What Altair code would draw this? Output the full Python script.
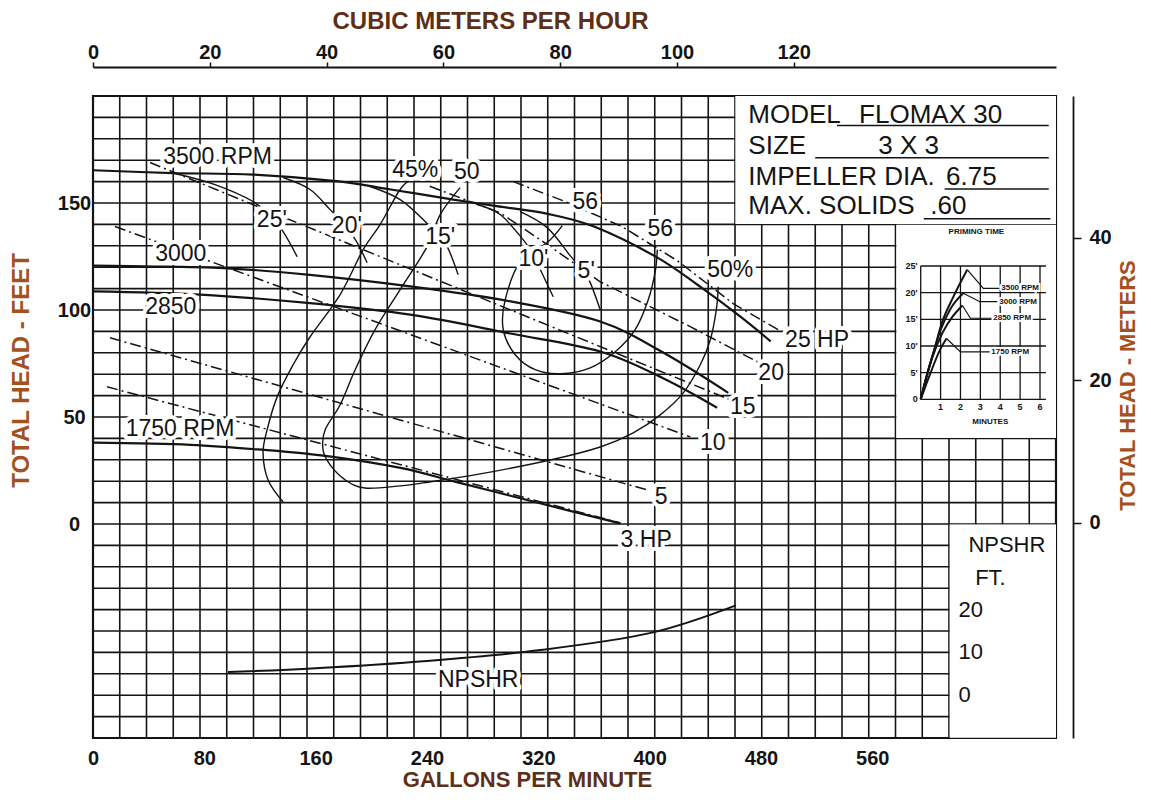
import altair as alt
import pandas as pd

FONT = "Liberation Sans"
INK = "#141414"
TITLE_COLOR_H = "#5e2f16"
TITLE_COLOR_V = "#a4511d"

# ---------------- scales / ticks ----------------
GPM_DOMAIN = [0, 692]
FT_DOMAIN = [-100, 200]
M3H_DOMAIN = [0, 164.9]
METER_DOMAIN = [-30.2, 59.9]
GPM_TICKS = [0, 80, 160, 240, 320, 400, 480, 560]
FT_TICKS = [0, 50, 100, 150]
M3H_TICKS = [0, 20, 40, 60, 80, 100, 120]
METER_TICKS = [0, 20, 40]
NPSHR_TICKS = [0, 10, 20]
NPSHR_BASE_FT = -80      # head-feet position of NPSHR = 0
NPSHR_SCALE = 2          # head-feet per NPSHR foot
GRID_COLUMNS = 36
GRID_FT = list(range(-100, 201, 10))

# ---------------- head-capacity curves (GPM, feet) ----------------
RPM3500_GPM = [0, 57, 115, 175, 214, 259, 290, 326, 360, 405, 436, 465, 487]
RPM3500_FT = [165.3, 164, 163.3, 160.2, 156.3, 151.6, 148.5, 145, 139, 124.7, 111, 97, 85.3]
RPM3000_GPM = [0, 36, 94, 154, 228, 300, 364.5, 410, 456.5]
RPM3000_FT = [120.7, 120.4, 119.6, 116.5, 111, 104, 94.6, 80, 61.3]
RPM2850_GPM = [0, 77, 154, 228, 300, 364.5, 410, 448.5]
RPM2850_FT = [108.7, 107.2, 103.3, 97.8, 89, 80.6, 68, 54.3]
RPM1750_GPM = [0, 70, 123, 171, 221, 260, 300, 340, 379]
RPM1750_FT = [38, 37, 34.6, 31.5, 26.2, 19.8, 13.2, 6.6, 0.3]

# ---------------- brake horsepower lines ----------------
HP25_GPM = [302, 340, 380, 420, 460, 495]
HP25_FT = [160, 150.5, 139, 123, 103, 89.8]
HP20_GPM = [242, 292.6, 330, 364.5, 429.2, 477.4]
HP20_FT = [157.8, 145.4, 129, 113.2, 92.2, 75.8]
HP15_GPM = [41, 461.5]
HP15_FT = [168.9, 57.1]
HP10_GPM = [15.8, 429.2]
HP10_FT = [139, 40.7]
HP5_GPM = [12.2, 398.3]
HP5_FT = [87, 15.9]
HP3_GPM = [10.1, 378.9]
HP3_FT = [64.1, 0.5]

# ---------------- efficiency curves ----------------
EFF45_GPM = [229.3, 220.7, 206.3, 194.1, 177.6, 156.0, 143.8, 132.3, 125.1, 122.2, 125.8, 136.6]
EFF45_FT = [161.0, 156.3, 139.9, 128.2, 107.2, 87.5, 74.4, 59.4, 44.0, 33.2, 20.6, 10.3]
EFF50_GPM = [263.8, 249.5, 240.1, 220.7, 202.7, 188.4, 177.6, 166.8, 165.3, 170.4, 181.2, 195.5,
             220.7, 237.2, 278.2, 328.5, 364.5, 388.2, 407.6, 424.2, 436.4, 443.6, 447.9, 449.3]
EFF50_FT = [157.2, 144.6, 129.6, 109.5, 90.8, 72.1, 55.7, 44.0, 34.6, 27.6, 20.6, 16.8,
            17.8, 19.2, 23.4, 29.9, 36.0, 42.6, 51.0, 61.3, 74.4, 86.1, 100.1, 110.9]
EFF56_GPM = [337.2, 326.4, 307.0, 296.2, 294.8, 303.4, 317.8, 335.7, 357.3, 375.3, 389.6, 399.0, 404.0, 405.5]
EFF56_FT = [139.4, 131.5, 122.6, 104.8, 90.8, 79.1, 72.1, 70.2, 73.0, 80.5, 90.8, 104.8, 117.9, 128.2]

# ---------------- suction-lift curves ----------------
LIFT25_GPM = [59, 87.7, 115, 127.2, 136.6, 146.7]
LIFT25_FT = [163.8, 158.6, 150.7, 143.7, 136.6, 124.9]
LIFT20_GPM = [136.6, 156, 170.4, 182.6, 189.8, 197]
LIFT20_FT = [161.9, 156.3, 146.9, 138.5, 131.5, 122.1]
LIFT15_GPM = [199.1, 220.7, 238.7, 247.3, 254.5, 262.4]
LIFT15_FT = [157.7, 151.6, 141.3, 134.3, 129.6, 116.5]
LIFT10_GPM = [276, 292.6, 309.1, 316.3, 321.4, 330.7]
LIFT10_FT = [149.3, 144.6, 132.9, 125.9, 118.9, 106.2]
LIFT5_GPM = [307, 326.4, 342.9, 352.3, 357.3, 364.5]
LIFT5_FT = [146, 138.5, 125.4, 117.9, 112.8, 100.1]

# ---------------- NPSHR (feet of NPSHR) ----------------
NPSHR_GPM = [97, 160, 240, 320, 400, 462]
NPSHR_VAL = [5.4, 6.3, 8.0, 10.5, 14.5, 21]

# ---------------- curve labels ----------------
LABEL_TEXT = ["3500 RPM", "3000", "2850", "1750 RPM", "45%", "50", "56", "56", "50%",
              "25'", "20'", "15'", "10'", "5'", "25 HP", "20", "15", "10", "5", "3 HP", "NPSHR"]
LABEL_GPM = [89.5, 63.1, 55.9, 62.5, 231.5, 268.6, 353.7, 407.6, 457.9,
             128.5, 182.4, 249.5, 316.5, 354.4, 520.3, 487.3, 466.9, 445.4, 408.2, 397.5, 276.8]
LABEL_FT = [171.7, 126.3, 101.2, 44.5, 165.6, 164.5, 150.4, 138.0, 118.9,
            141.9, 139.1, 134.1, 124.0, 118.1, 86.1, 70.5, 54.5, 37.8, 12.4, -7.5, -73]

NPSHR_HEAD_TEXT = ["NPSHR", "FT."]
NPSHR_HEAD_GPM = [656.7, 644.9]
NPSHR_HEAD_FT = [-9.8, -25.3]
NPSHR_TICK_GPM = 621.9

# ---------------- info box ----------------
INFO_TEXT = ["MODEL", "FLOMAX 30", "SIZE", "3 X 3", "IMPELLER DIA.", "6.75", "MAX. SOLIDS", ".60"]
INFO_GPM = [470.9, 550.5, 470.9, 564.3, 470.9, 613.0, 470.9, 601.7]
INFO_FT = [190.9, 190.9, 176.6, 176.6, 162.2, 162.2, 148.5, 148.5]
UNDER_GPM0 = [534.6, 519.0, 612.0, 597.0]
UNDER_GPM1 = [686.8, 686.8, 686.8, 688.0]
UNDER_FT = [186.2, 171.1, 156.6, 142.6]

# blank panels (info box, priming-time inset, NPSHR scale)
PANEL_GPM0 = [461.6, 577.3, 615.6]
PANEL_GPM1 = [692, 692, 692]
PANEL_FT0 = [140.2, 40.2, -99.9]
PANEL_FT1 = [200, 139.8, -0.2]

# ---------------- priming time inset ----------------
PRIME_MIN_TICKS = [0, 1, 2, 3, 4, 5, 6]
PRIME_LIFT_TICKS = [0, 5, 10, 15, 20, 25]
PRIME_LIFT_LABELS = ["0", "5'", "10'", "15'", "20'", "25'"]
PRIME_GRID_END = 6.3
P3500_MIN = [0, 0.3, 0.63, 1.06, 1.64, 2.34]
P3500_LIFT = [0, 4.5, 8.6, 14.3, 19.2, 24.3]
P3000_MIN = [0, 0.5, 1.0, 1.5, 2.14]
P3000_LIFT = [0, 7, 13, 17, 19.9]
P2850_MIN = [0, 0.6, 1.1, 1.6, 2.1]
P2850_LIFT = [0, 8, 12.5, 15.5, 17.6]
P1750_MIN = [0, 0.5, 1.0, 1.3]
P1750_LIFT = [0, 5, 9.5, 11.4]
LEAD3500_MIN = [2.34, 3.15, 4.0]
LEAD3500_LIFT = [24.3, 20.8, 20.8]
LEAD3000_MIN = [2.14, 2.98, 3.9]
LEAD3000_LIFT = [19.9, 18.3, 18.3]
LEAD2850_MIN = [2.1, 2.5, 3.6]
LEAD2850_LIFT = [17.6, 15.2, 15.2]
LEAD1750_MIN = [1.3, 2.0, 3.5]
LEAD1750_LIFT = [11.4, 8.9, 8.9]
PRIME_LABELS = ["3500 RPM", "3000 RPM", "2850 RPM", "1750 RPM"]
PRIME_LABEL_MIN = [4.05, 3.95, 3.65, 3.55]
PRIME_LABEL_LIFT = [20.8, 18.3, 15.2, 8.9]

# layout (pixels)
W, H = 963, 642
PAD = {"left": 85, "top": 88, "right": 87, "bottom": 56}
INSET_X_RANGE = [827.7, 947]
INSET_Y_RANGE = [303.3, 170]

# ================= build =================
XS = alt.Scale(domain=GPM_DOMAIN, nice=False, zero=False)
YS = alt.Scale(domain=FT_DOMAIN, nice=False, zero=False)

XAX = alt.Axis(values=GPM_TICKS, title="GALLONS PER MINUTE", grid=False, ticks=False, tickSize=0,
               domain=False, labelFontSize=20, labelFontWeight="bold", labelPadding=10,
               labelFlush=False, titleFontSize=22, titleFontWeight="bold", titlePadding=1,
               titleX=434, titleColor=TITLE_COLOR_H)
YAX = alt.Axis(values=FT_TICKS, title="TOTAL HEAD - FEET", grid=False, ticks=False, tickSize=0,
               domain=False, labelFontSize=20, labelFontWeight="bold", labelAlign="center",
               labelPadding=19, titleFontSize=24, titleFontWeight="bold", titlePadding=24,
               titleY=274, titleColor=TITLE_COLOR_V)


def X(field="gpm"):
    return alt.X(f"{field}:Q", scale=XS, axis=XAX)


def Y(field="ft"):
    return alt.Y(f"{field}:Q", scale=YS, axis=YAX)


def series(name, xs, ys, xname="gpm", yname="ft"):
    return pd.DataFrame({xname: xs, yname: ys, "series": name, "i": list(range(len(xs)))})


thick_df = pd.concat([
    series("3500", RPM3500_GPM, RPM3500_FT),
    series("3000", RPM3000_GPM, RPM3000_FT),
    series("2850", RPM2850_GPM, RPM2850_FT),
    series("1750", RPM1750_GPM, RPM1750_FT),
])
thin_df = pd.concat([
    series("e45", EFF45_GPM, EFF45_FT),
    series("e50", EFF50_GPM, EFF50_FT),
    series("e56", EFF56_GPM, EFF56_FT),
    series("l25", LIFT25_GPM, LIFT25_FT),
    series("l20", LIFT20_GPM, LIFT20_FT),
    series("l15", LIFT15_GPM, LIFT15_FT),
    series("l10", LIFT10_GPM, LIFT10_FT),
    series("l5", LIFT5_GPM, LIFT5_FT),
])
dash_df = pd.concat([
    series("hp25", HP25_GPM, HP25_FT),
    series("hp20", HP20_GPM, HP20_FT),
    series("hp15", HP15_GPM, HP15_FT),
    series("hp10", HP10_GPM, HP10_FT),
    series("hp5", HP5_GPM, HP5_FT),
    series("hp3", HP3_GPM, HP3_FT),
])
npshr_df = pd.DataFrame({"gpm": NPSHR_GPM, "npshr": NPSHR_VAL, "i": list(range(len(NPSHR_GPM)))})
npshr_expr = f"{NPSHR_BASE_FT} + {NPSHR_SCALE} * datum.npshr"

vgrid = alt.Chart(pd.DataFrame({"gpm": [GPM_DOMAIN[1] * k / GRID_COLUMNS for k in range(GRID_COLUMNS + 1)]})) \
    .mark_rule(color=INK, strokeWidth=1.6).encode(x=X())
hgrid = alt.Chart(pd.DataFrame({"ft": GRID_FT})).mark_rule(color=INK, strokeWidth=1.6).encode(y=Y())

panels = alt.Chart(pd.DataFrame({"gpm0": PANEL_GPM0, "gpm1": PANEL_GPM1, "ft0": PANEL_FT0, "ft1": PANEL_FT1})) \
    .mark_rect(color="white").encode(x=X("gpm0"), x2="gpm1:Q", y=Y("ft0"), y2="ft1:Q")

underlines = alt.Chart(pd.DataFrame({"gpm0": UNDER_GPM0, "gpm1": UNDER_GPM1, "ft": UNDER_FT})) \
    .mark_rule(color=INK, strokeWidth=1.5).encode(x=X("gpm0"), x2="gpm1:Q", y=Y())

dash_lines = alt.Chart(dash_df).mark_line(color=INK, strokeWidth=1.5, strokeDash=[11, 4, 2, 4]) \
    .encode(x=X(), y=Y(), detail="series:N", order="i:Q")
thin_lines = alt.Chart(thin_df).mark_line(color=INK, strokeWidth=1.4, interpolate="cardinal") \
    .encode(x=X(), y=Y(), detail="series:N", order="i:Q")
thick_lines = alt.Chart(thick_df).mark_line(color=INK, strokeWidth=2.2, interpolate="cardinal") \
    .encode(x=X(), y=Y(), detail="series:N", order="i:Q")
npshr_line = alt.Chart(npshr_df).transform_calculate(ft=npshr_expr) \
    .mark_line(color=INK, strokeWidth=2.0, interpolate="cardinal").encode(x=X(), y=Y(), order="i:Q")

lab_df = pd.DataFrame({"gpm": LABEL_GPM, "ft": LABEL_FT, "label": LABEL_TEXT})
lab_base = alt.Chart(lab_df).encode(x=X(), y=Y(), text="label:N")
lab_halo = lab_base.mark_text(font=FONT, fontSize=23, baseline="middle", fill="white", stroke="white",
                              strokeWidth=8, strokeJoin="round")
lab_text = lab_base.mark_text(font=FONT, fontSize=23, baseline="middle", color=INK)

nhead = alt.Chart(pd.DataFrame({"gpm": NPSHR_HEAD_GPM, "ft": NPSHR_HEAD_FT, "label": NPSHR_HEAD_TEXT})) \
    .mark_text(font=FONT, fontSize=22, baseline="middle", color=INK).encode(x=X(), y=Y(), text="label:N")
nticks = alt.Chart(pd.DataFrame({"npshr": NPSHR_TICKS, "gpm": [NPSHR_TICK_GPM] * len(NPSHR_TICKS)})) \
    .transform_calculate(ft=npshr_expr, label="'' + datum.npshr") \
    .mark_text(font=FONT, fontSize=22, align="left", baseline="middle", color=INK) \
    .encode(x=X(), y=Y(), text="label:N")

info = alt.Chart(pd.DataFrame({"gpm": INFO_GPM, "ft": INFO_FT, "label": INFO_TEXT})) \
    .mark_text(font=FONT, fontSize=26, align="left", baseline="middle", color=INK) \
    .encode(x=X(), y=Y(), text="label:N")

main = alt.layer(vgrid, hgrid, panels, underlines, dash_lines, thin_lines, thick_lines, npshr_line,
                 lab_halo, lab_text, nhead, nticks, info)

# ---- secondary axes (top: m3/h, right: meters)
TOPAX = alt.Axis(orient="top", values=M3H_TICKS, offset=29, title="CUBIC METERS PER HOUR", grid=False,
                 tickSize=5, tickWidth=1.5, tickColor=INK, domainColor=INK, domainWidth=1.8,
                 labelFontSize=20, labelFontWeight="bold", labelPadding=0, labelFlush=False,
                 titleFontSize=24, titleFontWeight="bold", titlePadding=9, titleX=397,
                 titleColor=TITLE_COLOR_H)
RAX = alt.Axis(orient="right", values=METER_TICKS, offset=17, title="TOTAL HEAD - METERS", grid=False,
               tickSize=8, tickWidth=1.5, tickColor=INK, domainColor=INK, domainWidth=1.8,
               labelFontSize=20, labelFontWeight="bold", labelPadding=8,
               titleFontSize=22, titleFontWeight="bold", titleAngle=270, titleBaseline="top",
               titlePadding=6, titleY=289, titleColor=TITLE_COLOR_V)
axes_layer = alt.Chart(pd.DataFrame({"m3h": M3H_DOMAIN, "m": METER_DOMAIN})).mark_point(opacity=0).encode(
    x=alt.X("m3h:Q", scale=alt.Scale(domain=M3H_DOMAIN, nice=False, zero=False), axis=TOPAX),
    y=alt.Y("m:Q", scale=alt.Scale(domain=METER_DOMAIN, nice=False, zero=False), axis=RAX),
)

# ---- priming time inset
IXS = alt.Scale(domain=[PRIME_MIN_TICKS[0], PRIME_MIN_TICKS[-1]], range=INSET_X_RANGE, nice=False, zero=False)
IYS = alt.Scale(domain=[PRIME_LIFT_TICKS[0], PRIME_LIFT_TICKS[-1]], range=INSET_Y_RANGE, nice=False, zero=False)


def IX(field="t"):
    return alt.X(f"{field}:Q", scale=IXS, axis=None)


def IY(field="lift"):
    return alt.Y(f"{field}:Q", scale=IYS, axis=None)


ivgrid = alt.Chart(pd.DataFrame({"t": PRIME_MIN_TICKS, "lo": PRIME_LIFT_TICKS[0], "hi": PRIME_LIFT_TICKS[-1]})) \
    .mark_rule(color=INK, strokeWidth=1.3).encode(x=IX(), y=IY("lo"), y2="hi:Q")
ihgrid = alt.Chart(pd.DataFrame({"lift": PRIME_LIFT_TICKS, "t0": PRIME_MIN_TICKS[0], "t1": PRIME_GRID_END})) \
    .mark_rule(color=INK, strokeWidth=1.3).encode(y=IY(), x=IX("t0"), x2="t1:Q")
icurves_df = pd.concat([
    series("3500", P3500_MIN, P3500_LIFT, "t", "lift"),
    series("3000", P3000_MIN, P3000_LIFT, "t", "lift"),
    series("2850", P2850_MIN, P2850_LIFT, "t", "lift"),
    series("1750", P1750_MIN, P1750_LIFT, "t", "lift"),
])
ileads_df = pd.concat([
    series("3500", LEAD3500_MIN, LEAD3500_LIFT, "t", "lift"),
    series("3000", LEAD3000_MIN, LEAD3000_LIFT, "t", "lift"),
    series("2850", LEAD2850_MIN, LEAD2850_LIFT, "t", "lift"),
    series("1750", LEAD1750_MIN, LEAD1750_LIFT, "t", "lift"),
])
icurves = alt.Chart(icurves_df).mark_line(color=INK, strokeWidth=2.0, interpolate="monotone") \
    .encode(x=IX(), y=IY(), detail="series:N", order="i:Q")
ileads = alt.Chart(ileads_df).mark_line(color=INK, strokeWidth=1.2) \
    .encode(x=IX(), y=IY(), detail="series:N", order="i:Q")
ilab_base = alt.Chart(pd.DataFrame({"t": PRIME_LABEL_MIN, "lift": PRIME_LABEL_LIFT, "label": PRIME_LABELS})) \
    .encode(x=IX(), y=IY(), text="label:N")
ilab_halo = ilab_base.mark_text(font=FONT, fontSize=8, fontWeight="bold", align="left", baseline="middle",
                                fill="white", stroke="white", strokeWidth=4)
ilab_text = ilab_base.mark_text(font=FONT, fontSize=8, fontWeight="bold", align="left", baseline="middle",
                                color=INK)
iyl = alt.Chart(pd.DataFrame({"lift": PRIME_LIFT_TICKS, "label": PRIME_LIFT_LABELS, "t": PRIME_MIN_TICKS[0]})) \
    .mark_text(font=FONT, fontSize=9, fontWeight="bold", align="right", baseline="middle", dx=-3, color=INK) \
    .encode(x=IX(), y=IY(), text="label:N")
ixl = alt.Chart(pd.DataFrame({"t": PRIME_MIN_TICKS[1:], "lift": PRIME_LIFT_TICKS[0],
                              "label": [str(v) for v in PRIME_MIN_TICKS[1:]]})) \
    .mark_text(font=FONT, fontSize=9, fontWeight="bold", baseline="top", dy=4, color=INK) \
    .encode(x=IX(), y=IY(), text="label:N")
ititle = alt.Chart(pd.DataFrame({"t": [2.8], "lift": [PRIME_LIFT_TICKS[-1]], "label": ["PRIMING TIME"]})) \
    .mark_text(font=FONT, fontSize=8, fontWeight="bold", baseline="middle", dy=-34, color=INK) \
    .encode(x=IX(), y=IY(), text="label:N")
ixtitle = alt.Chart(pd.DataFrame({"t": [3.5], "lift": [PRIME_LIFT_TICKS[0]], "label": ["MINUTES"]})) \
    .mark_text(font=FONT, fontSize=8, fontWeight="bold", baseline="middle", dy=23, color=INK) \
    .encode(x=IX(), y=IY(), text="label:N")

inset = alt.layer(ivgrid, ihgrid, icurves, ileads, ilab_halo, ilab_text, iyl, ixl, ititle, ixtitle)

chart = alt.layer(main, axes_layer, inset).resolve_scale(x="independent", y="independent").properties(
    width=W, height=H, background="white",
    autosize=alt.AutoSizeParams(type="none"), padding=PAD,
).configure_view(stroke=INK, strokeWidth=2.2).configure_axis(
    labelFont=FONT, titleFont=FONT, labelColor=INK
)

chart.save("out.html", embed_options={"renderer": "svg", "actions": False})
